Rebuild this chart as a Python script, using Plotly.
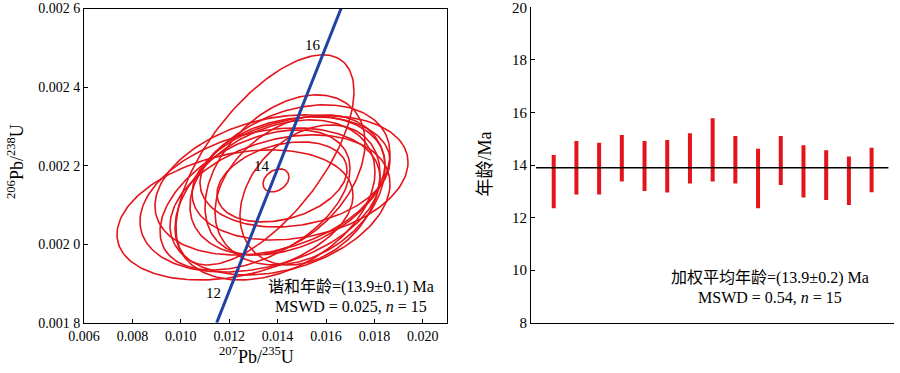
import numpy as np
import plotly.graph_objects as go

# ---------------- data ----------------
# Concordia diagram: error ellipses (centre, 1-axis half-widths, correlation)
ell_cx = [0.013479, 0.012240, 0.014926, 0.014512, 0.013686, 0.014306, 0.013273, 0.013893,
          0.014926, 0.013066, 0.014719, 0.014099, 0.015339, 0.014182, 0.013934]
ell_cy = [0.0022145, 0.0020744, 0.0021687, 0.0021636, 0.0021508, 0.0021763, 0.0021126, 0.0021126,
          0.0021381, 0.0021126, 0.0021839, 0.0020999, 0.0021253, 0.0021585, 0.0021623]
ell_sx = [0.003678, 0.004876, 0.004463, 0.004132, 0.004752, 0.003306, 0.004959, 0.004132,
          0.003512, 0.003926, 0.003926, 0.004545, 0.002893, 0.002686, 0.000537]
ell_sy = [0.0002675, 0.0001656, 0.0001580, 0.0001911, 0.0001783, 0.0002038, 0.0001834, 0.0002038,
          0.0001911, 0.0001783, 0.0001401, 0.0001783, 0.0001783, 0.0001019, 0.0000293]
ell_rho = [0.65, 0.30, 0.25, 0.35, 0.30, 0.40, 0.30, 0.35, 0.30, 0.45, 0.20, 0.30, 0.30, 0.30, 0.30]

# Concordia curve points (207Pb/235U, 206Pb/238U)
concordia_x = [0.011483, 0.011888, 0.013883, 0.015882, 0.016622]
concordia_y = [0.0018, 0.0018632, 0.0021741, 0.0024851, 0.0026]
concordia_age_labels = ["12", "14", "16"]
concordia_label_x = [0.011343, 0.013343, 0.015475]
concordia_label_y = [0.001875, 0.0022, 0.0025075]

x1_ticks = [0.006, 0.008, 0.010, 0.012, 0.014, 0.016, 0.018, 0.020]
x1_ticktext = ["0.006", "0.008", "0.010", "0.012", "0.014", "0.016", "0.018", "0.020"]
y1_ticks = [0.0018, 0.0020, 0.0022, 0.0024, 0.0026]
y1_ticktext = ["0.001 8", "0.002 0", "0.002 2", "0.002 4", "0.002 6"]

# Weighted-mean plot: age error bars (Ma)
spot_no = list(range(1, 16))
age_lo = [12.35, 12.88, 12.88, 13.37, 13.01, 12.95, 13.30, 13.37, 13.30, 12.35, 13.24, 12.76, 12.67, 12.48, 12.96]
age_hi = [14.38, 14.91, 14.85, 15.14, 14.91, 14.95, 15.21, 15.78, 15.10, 14.62, 15.10, 14.75, 14.56, 14.32, 14.66]
weighted_mean = 13.9
y2_ticks = [8, 10, 12, 14, 16, 18, 20]

# ---------------- figure ----------------
W, H = 900, 373
FONT = "'Liberation Serif', 'Times New Roman', 'Noto Sans CJK SC', serif"
RED = "#e4141b"
BLUE = "#2142a3"

fig = go.Figure()

t = np.linspace(0, 2 * np.pi, 181)
for cx, cy, sx, sy, r in zip(ell_cx, ell_cy, ell_sx, ell_sy, ell_rho):
    ex = cx + sx * np.cos(t)
    ey = cy + sy * (r * np.cos(t) + np.sqrt(1 - r * r) * np.sin(t))
    fig.add_trace(go.Scatter(x=ex, y=ey, mode="lines", line=dict(color=RED, width=1.6),
                             xaxis="x", yaxis="y", showlegend=False, hoverinfo="skip"))

fig.add_trace(go.Scatter(x=concordia_x, y=concordia_y, mode="lines",
                         line=dict(color=BLUE, width=3), xaxis="x", yaxis="y",
                         showlegend=False, hoverinfo="skip"))

for lab, lx, ly in zip(concordia_age_labels, concordia_label_x, concordia_label_y):
    fig.add_annotation(x=lx, y=ly, xref="x", yref="y", text=lab, showarrow=False,
                       font=dict(family=FONT, size=15, color="black"))

# error bars
bx, by = [], []
for i, lo, hi in zip(spot_no, age_lo, age_hi):
    bx += [i, i, None]
    by += [lo, hi, None]
fig.add_trace(go.Scatter(x=bx, y=by, mode="lines", line=dict(color=RED, width=4),
                         xaxis="x2", yaxis="y2", showlegend=False, hoverinfo="skip"))
fig.add_trace(go.Scatter(x=[0.22, 15.74], y=[weighted_mean, weighted_mean], mode="lines",
                         line=dict(color="black", width=1.5), xaxis="x2", yaxis="y2",
                         showlegend=False, hoverinfo="skip"))

def px_x(p):
    return p / W

def px_y(p):
    return 1 - p / H

axis_common = dict(showgrid=False, zeroline=False, showline=True, linecolor="black",
                   linewidth=1, ticks="inside", ticklen=4, tickcolor="black", tickwidth=1,
                   automargin=False, ticklabeloverflow="allow")

fig.update_layout(
    template="none",
    width=W, height=H, autosize=False,
    margin=dict(l=0, r=0, t=0, b=0, pad=0),
    paper_bgcolor="white", plot_bgcolor="white",
    font=dict(family=FONT, size=14, color="black"),
    showlegend=False,
    xaxis=dict(domain=[px_x(84), px_x(447)], range=[0.006, 0.021], tickvals=x1_ticks,
               ticktext=x1_ticktext, mirror=True, anchor="y",
               tickfont=dict(family=FONT, size=14, color="black"), **axis_common),
    yaxis=dict(domain=[px_y(322.7), px_y(8.5)], range=[0.0018, 0.0026], tickvals=y1_ticks,
               ticktext=y1_ticktext, mirror=True, anchor="x",
               tickfont=dict(family=FONT, size=14, color="black"), **axis_common),
    xaxis2=dict(domain=[px_x(531), px_x(894.3)], range=[0, 16], tickvals=[16],
                showticklabels=False, anchor="y2", **axis_common),
    yaxis2=dict(domain=[px_y(322.7), px_y(7.3)], range=[8, 20], tickvals=y2_ticks,
                anchor="x2", tickfont=dict(family=FONT, size=15, color="black"), **axis_common),
)

def ann(text, x, y, size=15, angle=0):
    fig.add_annotation(x=px_x(x), y=px_y(y), xref="paper", yref="paper", text=text,
                       showarrow=False, textangle=angle, xanchor="center", yanchor="middle",
                       font=dict(family=FONT, size=size, color="black"))

ann("<sup>207</sup>Pb/<sup>235</sup>U", 256, 355, size=18)
ann("<sup>206</sup>Pb/<sup>238</sup>U", 15, 162, size=18, angle=-90)
ann("年龄/Ma", 485, 164.5, size=18, angle=-90)
ann("谐和年龄=(13.9±0.1) Ma", 351, 287, size=16)
ann("MSWD = 0.025, <i>n</i> = 15", 351, 306.5, size=16)
ann("加权平均年龄=(13.9±0.2) Ma", 770, 277.5, size=16)
ann("MSWD = 0.54, <i>n</i> = 15", 770, 297, size=16)

fig.write_html("out.html", config={"displayModeBar": False},
               post_script="document.body.style.margin='0px';document.body.style.overflow='hidden';")
